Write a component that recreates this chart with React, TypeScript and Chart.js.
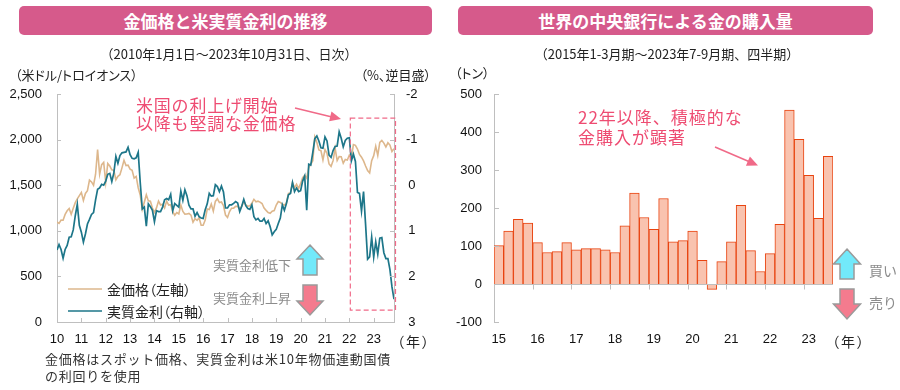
import React, { useEffect, useRef } from 'react';
import { Chart, registerables } from 'chart.js';
Chart.register(...registerables);

// ---------- Data (left): month-start values, Jan 2010 ... Oct 31 2023 ----------
const goldPrice = [
  1097, 1081, 1118, 1116, 1180, 1220, 1244, 1181, 1246, 1309, 1350, 1385,
  1421, 1333, 1410, 1439, 1556, 1536, 1500, 1620, 1890, 1620, 1725, 1750,
  1531, 1737, 1710, 1668, 1663, 1560, 1598, 1615, 1690, 1773, 1715, 1720,
  1676, 1663, 1578, 1596, 1472, 1393, 1234, 1313, 1396, 1328, 1324, 1250,
  1202, 1251, 1326, 1283, 1291, 1250, 1326, 1282, 1287, 1210, 1171, 1200,
  1184, 1283, 1213, 1183, 1184, 1190, 1172, 1095, 1133, 1115, 1142, 1061,
  1061, 1118, 1238, 1232, 1293, 1215, 1322, 1351, 1310, 1316, 1277, 1173,
  1146, 1211, 1248, 1248, 1268, 1268, 1242, 1269, 1322, 1283, 1270, 1275,
  1303, 1345, 1318, 1325, 1315, 1299, 1250, 1224, 1201, 1192, 1215, 1222,
  1282, 1320, 1311, 1292, 1283, 1305, 1409, 1413, 1529, 1472, 1511, 1463,
  1517, 1582, 1609, 1577, 1694, 1730, 1768, 2030, 1968, 1887, 1879, 1776,
  1891, 1850, 1733, 1707, 1769, 1905, 1770, 1814, 1813, 1742, 1783, 1776,
  1829, 1797, 1945, 1937, 1896, 1837, 1807, 1766, 1711, 1660, 1634, 1769,
  1824, 1928, 1827, 1969, 1990, 1962, 1919, 1965, 1940, 1870, 1900,
];

const realRate = [
  1.42, 1.30, 1.41, 1.60, 1.41, 1.32, 1.14, 1.13, 0.98, 0.67, 0.42, 0.88,
  1.03, 1.25, 1.07, 0.85, 0.75, 0.64, 0.60, 0.32, 0.09, 0.06, -0.02, 0.00,
  -0.09, -0.24, -0.26, -0.08, -0.27, -0.63, -0.48, -0.65, -0.71, -0.72, -0.73, -0.83,
  -0.67, -0.59, -0.58, -0.60, -0.72, -0.06, 0.52, 0.48, 0.90, 0.41, 0.47, 0.55,
  0.80, 0.56, 0.58, 0.58, 0.48, 0.32, 0.29, 0.32, 0.20, 0.56, 0.40, 0.44,
  0.48, 0.13, 0.33, 0.10, 0.23, 0.44, 0.52, 0.52, 0.68, 0.60, 0.69, 0.72,
  0.73, 0.54, 0.41, 0.18, 0.24, 0.23, -0.01, 0.03, 0.14, 0.02, 0.15, 0.50,
  0.50, 0.43, 0.43, 0.40, 0.36, 0.39, 0.58, 0.46, 0.31, 0.45, 0.51, 0.53,
  0.43, 0.69, 0.76, 0.73, 0.79, 0.79, 0.73, 0.84, 0.78, 0.91, 1.09, 1.02,
  0.97, 0.84, 0.72, 0.43, 0.55, 0.40, 0.21, 0.18, -0.06, 0.14, 0.06, 0.14,
  0.12, -0.09, -0.20, 0.55, -0.46, -0.44, -0.72, -1.02, -1.08, -0.97, -0.82, -0.81,
  -1.06, -0.97, -0.66, -0.61, -0.76, -0.85, -0.86, -1.17, -1.03, -0.84, -0.98, -1.03,
  -1.04, -0.53, -0.68, -0.52, 0.16, 0.18, 0.57, 0.14, 0.86, 1.62, 1.57, 1.14,
  1.58, 1.24, 1.51, 1.16, 1.15, 1.48, 1.61, 1.61, 1.85, 2.23, 2.50,
];

const leftStartYear = 2010;
const leftYears = [2010, 2011, 2012, 2013, 2014, 2015, 2016, 2017, 2018, 2019, 2020, 2021, 2022, 2023];
const leftGoldTicks = [0, 500, 1000, 1500, 2000, 2500];
const leftRateTicks = [-2, -1, 0, 1, 2, 3];

// ---------- Data (right): quarterly central bank gold purchases (tonnes) ----------
const quarters = [
  '2015Q1', '2015Q2', '2015Q3', '2015Q4', '2016Q1', '2016Q2', '2016Q3', '2016Q4',
  '2017Q1', '2017Q2', '2017Q3', '2017Q4', '2018Q1', '2018Q2', '2018Q3', '2018Q4',
  '2019Q1', '2019Q2', '2019Q3', '2019Q4', '2020Q1', '2020Q2', '2020Q3', '2020Q4',
  '2021Q1', '2021Q2', '2021Q3', '2021Q4', '2022Q1', '2022Q2', '2022Q3', '2022Q4',
  '2023Q1', '2023Q2', '2023Q3',
];
const cbPurchases = [
  101, 139, 170, 160, 109, 83, 85, 109, 90, 93, 93, 90,
  83, 153, 239, 175, 144, 225, 111, 114, 139, 62, -14, 59,
  111, 207, 88, 33, 80, 157, 458, 381, 286, 173, 336,
];
const rightYearLabels = ['15', '16', '17', '18', '19', '20', '21', '22', '23'];
const rightTicks = [-100, 0, 100, 200, 300, 400, 500];

// ---------- Styles ----------
const AXIS = '#BFBFBF';
const TAN = '#DDB78C';
const TEAL = '#1D7689';
const PINK = '#EE4C72';
const PINK_ARROW = '#F06A88';
const BANNER = '#D65A8B';
const NUM_FONT = '"Liberation Sans", Arial, sans-serif';
const JP_FONT = '"Noto Sans CJK JP", "Noto Sans", sans-serif';

const leftDecor = {
  id: 'leftDecor',
  afterDraw(chart: any) {
    const { ctx, chartArea: a, scales } = chart;
    const x = scales.x, yL = scales.yL, yR = scales.yR;
    ctx.save();
    ctx.strokeStyle = AXIS;
    ctx.lineWidth = 1;
    ctx.beginPath();
    yL.ticks.forEach((t: any) => {
      const py = Math.round(yL.getPixelForValue(t.value)) + 0.5;
      ctx.moveTo(a.left, py); ctx.lineTo(a.left + 4, py);
    });
    yR.ticks.forEach((t: any) => {
      const py = Math.round(yR.getPixelForValue(t.value)) + 0.5;
      ctx.moveTo(a.right - 4, py); ctx.lineTo(a.right, py);
    });
    x.ticks.forEach((t: any) => {
      const px = Math.round(x.getPixelForValue(t.value)) + 0.5;
      ctx.moveTo(px, a.bottom); ctx.lineTo(px, a.bottom - 4);
    });
    ctx.stroke();
    // dashed highlight box (2022 onward)
    ctx.setLineDash([5, 3]);
    ctx.strokeStyle = PINK_ARROW;
    ctx.lineWidth = 1.2;
    const bx1 = x.getPixelForValue(2022.04);
    const bx2 = a.right + 1.5;
    const by1 = yR.getPixelForValue(-1.47);
    const by2 = yR.getPixelForValue(2.74);
    ctx.strokeRect(bx1, by1, bx2 - bx1, by2 - by1);
    ctx.restore();
  },
};

const rightDecor = {
  id: 'rightDecor',
  afterDraw(chart: any) {
    const { ctx, chartArea: a, scales } = chart;
    const x = scales.x, y = scales.y;
    ctx.save();
    ctx.strokeStyle = AXIS;
    ctx.lineWidth = 1;
    ctx.beginPath();
    const y0 = Math.round(y.getPixelForValue(0)) + 0.5;
    ctx.moveTo(a.left, y0); ctx.lineTo(a.right, y0);
    for (let k = 4; k < cbPurchases.length; k += 4) {
      const px = Math.round((x.getPixelForValue(k - 1) + x.getPixelForValue(k)) / 2) + 0.5;
      ctx.moveTo(px, y0); ctx.lineTo(px, y0 + 5);
    }
    y.ticks.forEach((t: any) => {
      const py = Math.round(y.getPixelForValue(t.value)) + 0.5;
      ctx.moveTo(a.left, py); ctx.lineTo(a.left + 5, py);
    });
    ctx.stroke();
    ctx.restore();
  },
};

const tickFont = { family: NUM_FONT, size: 13 };

type TxtProps = { x: number; y: number; size?: number; color?: string; align?: 'left' | 'right' | 'center'; bold?: boolean; palt?: boolean; ls?: number; lh?: number; children: any };
const Txt = ({ x, y, size = 13, color = '#222', align = 'left', bold, palt, ls, lh, children }: TxtProps) => {
  const lineH = lh ?? size + 2;
  const style: any = {
    position: 'absolute',
    top: y - lineH / 2,
    fontSize: size,
    lineHeight: lineH + 'px',
    color,
    whiteSpace: 'nowrap',
    fontFamily: JP_FONT,
    fontWeight: bold ? 700 : 400,
  };
  if (palt) style.fontFeatureSettings = '"palt"';
  if (ls) style.letterSpacing = ls + 'px';
  if (align === 'left') style.left = x;
  else if (align === 'right') style.right = 900 - x;
  else { style.left = x; style.transform = 'translateX(-50%)'; }
  return <div style={style}>{children}</div>;
};

const arrowHead = (x1: number, y1: number, x2: number, y2: number, len = 11, half = 5) => {
  const dx = x2 - x1, dy = y2 - y1;
  const d = Math.hypot(dx, dy);
  const ux = dx / d, uy = dy / d;
  const bx = x2 - ux * len, by = y2 - uy * len;
  return `${x2},${y2} ${bx - uy * half},${by + ux * half} ${bx + uy * half},${by - ux * half}`;
};

const upArrow = (cx: number, top: number, bottom: number, hw: number, sw: number, headH: number) =>
  `${cx},${top} ${cx + hw},${top + headH} ${cx + sw},${top + headH} ${cx + sw},${bottom} ${cx - sw},${bottom} ${cx - sw},${top + headH} ${cx - hw},${top + headH}`;
const downArrow = (cx: number, top: number, bottom: number, hw: number, sw: number, headH: number) =>
  `${cx - sw},${top} ${cx + sw},${top} ${cx + sw},${bottom - headH} ${cx + hw},${bottom - headH} ${cx},${bottom} ${cx - hw},${bottom - headH} ${cx - sw},${bottom - headH}`;

export default function App() {
  const leftRef = useRef<HTMLCanvasElement>(null);
  const rightRef = useRef<HTMLCanvasElement>(null);

  useEffect(() => {
    const leftChart = new Chart(leftRef.current as HTMLCanvasElement, {
      type: 'line',
      data: {
        datasets: [
          {
            label: '実質金利（右軸）',
            data: realRate.map((v, i) => ({ x: leftStartYear + i / 12, y: v })),
            yAxisID: 'yR',
            borderColor: TEAL,
            borderWidth: 1.7,
            pointRadius: 0,
            tension: 0,
          },
          {
            label: '金価格（左軸）',
            data: goldPrice.map((v, i) => ({ x: leftStartYear + i / 12, y: v })),
            yAxisID: 'yL',
            borderColor: TAN,
            borderWidth: 1.6,
            pointRadius: 0,
            tension: 0,
          },
        ],
      },
      options: {
        responsive: false,
        animation: false,
        events: [],
        layout: { padding: { top: 94, left: 0, right: 0, bottom: 0 } },
        plugins: { legend: { display: false }, tooltip: { enabled: false } },
        scales: {
          x: {
            type: 'linear',
            min: leftStartYear,
            max: leftStartYear + (goldPrice.length - 1) / 12,
            afterBuildTicks: (s: any) => { s.ticks = leftYears.map((v) => ({ value: v })); },
            afterFit: (s: any) => { s.height = 68; },
            ticks: {
              callback: (v: any) => String(Math.round(v) - 2000),
              font: tickFont, color: '#111', padding: 10, maxRotation: 0, autoSkip: false,
            },
            grid: { display: false, drawTicks: false },
            border: { color: AXIS },
          },
          yL: {
            type: 'linear',
            position: 'left',
            min: 0, max: 2500,
            afterBuildTicks: (s: any) => { s.ticks = leftGoldTicks.map((v) => ({ value: v })); },
            afterFit: (s: any) => { s.width = 57; },
            ticks: {
              callback: (v: any) => Number(v).toLocaleString('en-US'),
              font: tickFont, color: '#111', padding: 15,
            },
            grid: { display: false, drawTicks: false },
            border: { color: AXIS },
          },
          yR: {
            type: 'linear',
            position: 'right',
            min: -2, max: 3,
            reverse: true,
            afterBuildTicks: (s: any) => { s.ticks = leftRateTicks.map((v) => ({ value: v })); },
            afterFit: (s: any) => { s.width = 56; },
            ticks: { font: tickFont, color: '#111', padding: 12, crossAlign: 'center' },
            grid: { display: false, drawTicks: false },
            border: { color: AXIS },
          },
        },
      } as any,
      plugins: [leftDecor],
    });

    const rightChart = new Chart(rightRef.current as HTMLCanvasElement, {
      type: 'bar',
      data: {
        labels: quarters,
        datasets: [
          {
            label: '購入量',
            data: cbPurchases,
            backgroundColor: '#F9C3AF',
            borderColor: '#E8430F',
            borderWidth: 1,
            barPercentage: 1,
            categoryPercentage: 1,
          },
        ],
      },
      options: {
        responsive: false,
        animation: false,
        events: [],
        layout: { padding: { top: 94, left: 0, right: 67, bottom: 0 } },
        plugins: { legend: { display: false }, tooltip: { enabled: false } },
        scales: {
          x: {
            type: 'category',
            afterFit: (s: any) => { s.height = 68; },
            ticks: {
              callback: (_v: any, i: number) => (i % 4 === 0 ? rightYearLabels[i / 4] : ''),
              font: tickFont, color: '#111', padding: 10, maxRotation: 0, autoSkip: false,
            },
            grid: { display: false, drawTicks: false },
            border: { display: false },
          },
          y: {
            type: 'linear',
            min: -100, max: 500,
            afterBuildTicks: (s: any) => { s.ticks = rightTicks.map((v) => ({ value: v })); },
            afterFit: (s: any) => { s.width = 44; },
            ticks: { font: tickFont, color: '#111', padding: 12 },
            grid: { display: false, drawTicks: false },
            border: { color: AXIS },
          },
        },
      } as any,
      plugins: [rightDecor],
    });

    return () => {
      leftChart.destroy();
      rightChart.destroy();
    };
  }, []);

  return (
    <div style={{ position: 'absolute', left: 0, top: 0, width: 900, height: 390, background: '#fff', overflow: 'hidden', fontFamily: JP_FONT }}>
      <canvas ref={leftRef} width={450} height={390} style={{ position: 'absolute', left: 0, top: 0, width: 450, height: 390 }} />
      <canvas ref={rightRef} width={450} height={390} style={{ position: 'absolute', left: 450, top: 0, width: 450, height: 390 }} />

      {/* banners */}
      <div style={{ position: 'absolute', left: 19, top: 6, width: 413, height: 29, background: BANNER, borderRadius: 5, color: '#fff', fontWeight: 700, fontSize: 17, display: 'flex', alignItems: 'center', justifyContent: 'center', fontFamily: JP_FONT }}>
        金価格と米実質金利の推移
      </div>
      <div style={{ position: 'absolute', left: 458, top: 6, width: 415, height: 29, background: BANNER, borderRadius: 5, color: '#fff', fontWeight: 700, fontSize: 17, display: 'flex', alignItems: 'center', justifyContent: 'center', fontFamily: JP_FONT }}>
        世界の中央銀行による金の購入量
      </div>

      {/* left texts */}
      <Txt x={229} y={53} align="center">（2010年1月1日～2023年10月31日、日次）</Txt>
      <Txt x={15} y={74} palt>（米ドル/トロイオンス）</Txt>
      <Txt x={431} y={74} align="right" palt>（%、逆目盛）</Txt>
      <Txt x={136} y={105} size={17} color={PINK} ls={0.8} lh={18.5}>
        米国の利上げ開始<br />以降も堅調な金価格
      </Txt>
      <Txt x={107} y={289} size={14} palt>金価格（左軸）</Txt>
      <Txt x={107} y={311} size={14} palt>実質金利（右軸）</Txt>
      <Txt x={291} y={264} align="right" color="#8C8C8C">実質金利低下</Txt>
      <Txt x={291} y={297} align="right" color="#8C8C8C">実質金利上昇</Txt>
      <Txt x={397} y={341} size={14} palt ls={2}>（年）</Txt>
      <Txt x={45} y={358} ls={0.75} color="#333" lh={17}>
        金価格はスポット価格、実質金利は米10年物価連動国債<br />の利回りを使用
      </Txt>

      {/* right texts */}
      <Txt x={667} y={53} align="center">（2015年1-3月期～2023年7-9月期、四半期）</Txt>
      <Txt x={455} y={72} palt>（トン）</Txt>
      <Txt x={578} y={117} size={17} color={PINK} ls={1} lh={20}>
        22年以降、積極的な<br />金購入が顕著
      </Txt>
      <Txt x={832} y={341} size={14} palt ls={2}>（年）</Txt>
      <Txt x={869} y={270} size={14} color="#8C8C8C">買い</Txt>
      <Txt x={869} y={302} size={14} color="#8C8C8C">売り</Txt>

      <svg width={900} height={390} style={{ position: 'absolute', left: 0, top: 0, pointerEvents: 'none' }}>
        {/* legend lines */}
        <line x1={68} y1={289} x2={102} y2={289} stroke={TAN} strokeWidth={1.6} />
        <line x1={68} y1={311} x2={102} y2={311} stroke={TEAL} strokeWidth={1.6} />
        {/* annotation arrows */}
        <line x1={295} y1={108} x2={333} y2={117.3} stroke={PINK_ARROW} strokeWidth={1.6} />
        <polygon points={arrowHead(295, 108, 341, 119)} fill={PINK_ARROW} />
        <line x1={715} y1={147} x2={750} y2={162} stroke={PINK_ARROW} strokeWidth={1.6} />
        <polygon points={arrowHead(715, 147, 758, 165.5)} fill={PINK_ARROW} />
        {/* block arrows left */}
        <polygon points={upArrow(310, 245, 275, 13, 7, 14)} fill="#72E9FA" stroke="#9A9A9A" strokeWidth={1.5} />
        <polygon points={downArrow(310, 285, 315, 13, 7, 14)} fill="#F47B8E" stroke="#9A9A9A" strokeWidth={1.5} />
        {/* block arrows right */}
        <polygon points={upArrow(847, 249, 279, 13.5, 7, 15)} fill="#72E9FA" stroke="#9A9A9A" strokeWidth={1.5} />
        <polygon points={downArrow(847, 289, 319, 13.5, 7, 15)} fill="#F47B8E" stroke="#9A9A9A" strokeWidth={1.5} />
      </svg>
    </div>
  );
}
